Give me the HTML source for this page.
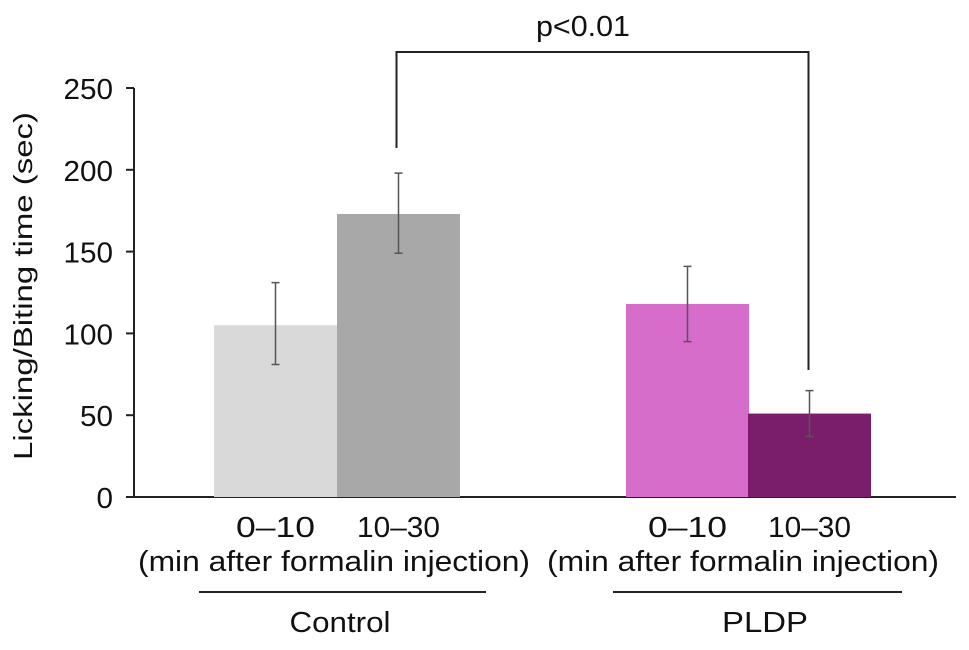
<!DOCTYPE html>
<html><head><meta charset="utf-8"><style>
body{margin:0;background:#fff}
svg{display:block;font-family:"Liberation Sans",Arial,sans-serif}
</style></head><body>
<svg id="chart" width="969" height="650">
<g id="axes"></g><g id="bars"></g><g id="errs"></g><g id="labels"></g>
</svg>
<script>
const categories=["Control 0–10","Control 10–30","PLDP 0–10","PLDP 10–30"];
const values=[105,173,118,51];
const errLow=[81,149,95,37];
const errHigh=[131,198,141,65];
const colors=["#d9d9d9","#a8a8a8","#d76dcb","#7a1e6c"];
const yTicks=[0,50,100,150,200,250];
const groups=["Control","PLDP"];
const ns="http://www.w3.org/2000/svg";
const y0=497,yTop=88,ymax=250;
const y=v=>y0-(v/ymax)*(y0-yTop);
const barX=[214,337,626,748],barW=123;
function mk(tag,attrs,parent,text){const e=document.createElementNS(ns,tag);for(const k in attrs)e.setAttribute(k,attrs[k]);if(text!==undefined)e.textContent=text;document.getElementById(parent).appendChild(e);return e;}
let e=mk("line",{x1:134,y1:yTop,x2:134,y2:y0,stroke:"#222","stroke-width":2},"axes");


e=mk("line",{x1:133,y1:y0,x2:956,y2:y0,stroke:"#222","stroke-width":2},"axes");


yTicks.forEach(t=>{
 e=mk("line",{x1:126,y1:y(t),x2:134,y2:y(t),stroke:"#222","stroke-width":2},"axes");
 
 
 const s=String(t);
 e=mk("text",{x:113,y:y(t)+11,"text-anchor":"end","font-size":29,fill:"#111",textLength:s.length*16.5,lengthAdjust:"spacingAndGlyphs"},"axes",s);
 
 
});
e=mk("text",{x:0,y:0,"text-anchor":"middle","font-size":26,fill:"#111",textLength:348,lengthAdjust:"spacingAndGlyphs",transform:"translate(32,286) rotate(-90)"},"axes","Licking/Biting time (sec)");


values.forEach((v,i)=>{
 e=mk("rect",{x:barX[i],y:y(v),width:barW,height:y0-y(v),fill:colors[i]},"bars");
 
 
 const cx=barX[i]+barW/2;
 e=mk("path",{d:`M${cx-4},${y(errHigh[i])}H${cx+4}M${cx},${y(errHigh[i])}V${y(errLow[i])}M${cx-4},${y(errLow[i])}H${cx+4}`,stroke:"#555","stroke-width":1.5,fill:"none"},"errs");
 
 
 const lab=categories[i].split(" ")[1];
 e=mk("text",{x:cx,y:537,"text-anchor":"middle","font-size":29,fill:"#111",textLength:lab.length===4?79:83,lengthAdjust:"spacingAndGlyphs"},"labels",lab);
 
 
});
const gc=[[199,486],[613,902]];
const lc=[334,743];
const gl=[340,765];
groups.forEach((g,i)=>{
 e=mk("text",{x:lc[i],y:571,"text-anchor":"middle","font-size":29,fill:"#111",textLength:392,lengthAdjust:"spacingAndGlyphs"},"labels","(min after formalin injection)");
 
 
 e=mk("line",{x1:gc[i][0],y1:592,x2:gc[i][1],y2:592,stroke:"#222","stroke-width":2},"labels");
 
 
 e=mk("text",{x:gl[i],y:632,"text-anchor":"middle","font-size":29,fill:"#111",textLength:i===0?101:86,lengthAdjust:"spacingAndGlyphs"},"labels",g);
 
 
});
const bx1=barX[1]+barW/2-2,bx2=barX[3]+barW/2-1;
e=mk("path",{d:`M${bx1},148V52H${bx2}V370`,stroke:"#222","stroke-width":2,fill:"none"},"labels");


e=mk("text",{x:583,y:36,"text-anchor":"middle","font-size":29,fill:"#111",textLength:94,lengthAdjust:"spacingAndGlyphs"},"labels","p<0.01");


</script>
</body></html>
